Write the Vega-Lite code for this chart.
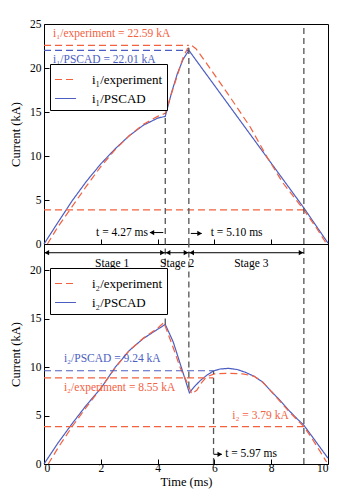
{
  "$schema": "https://vega.github.io/schema/vega-lite/v6.json",
  "background": "white",
  "padding": {"left": 8, "top": 17, "right": 17, "bottom": 8},
  "spacing": 0,
  "bounds": "flush",
  "config": {
    "font": "Liberation Serif",
    "view": {"stroke": "black", "strokeWidth": 1},
    "axis": {"domain": false, "grid": false, "tickColor": "black", "tickWidth": 1, "labelFont": "Liberation Serif", "labelFontSize": 11.5, "labelColor": "black", "titleFont": "Liberation Serif", "titleFontSize": 12.5, "titleFontWeight": "normal", "titleColor": "black"},
    "text": {"font": "Liberation Serif", "fontSize": 11.5},
    "legend": {"labelFont": "Liberation Serif", "labelFontSize": 13, "labelColor": "black", "symbolType": "stroke", "symbolStrokeWidth": 1.2, "symbolSize": 440, "strokeColor": "black", "fillColor": "white", "padding": 4, "labelOffset": 15, "rowPadding": 0, "title": null}
  },
  "datasets": {
    "top_curves": [
      {"t": 0, "i": 0, "s": "i₁/PSCAD"}, {"t": 0.5, "i": 2.5, "s": "i₁/PSCAD"}, {"t": 1, "i": 4.95, "s": "i₁/PSCAD"}, {"t": 1.5, "i": 7.15, "s": "i₁/PSCAD"}, {"t": 2, "i": 9.1, "s": "i₁/PSCAD"}, {"t": 2.5, "i": 10.8, "s": "i₁/PSCAD"}, {"t": 3, "i": 12.3, "s": "i₁/PSCAD"}, {"t": 3.5, "i": 13.5, "s": "i₁/PSCAD"}, {"t": 4, "i": 14.3, "s": "i₁/PSCAD"}, {"t": 4.27, "i": 14.5, "s": "i₁/PSCAD"}, {"t": 4.5, "i": 17.3, "s": "i₁/PSCAD"}, {"t": 4.7, "i": 19.4, "s": "i₁/PSCAD"}, {"t": 4.9, "i": 21.0, "s": "i₁/PSCAD"}, {"t": 5.1, "i": 22.01, "s": "i₁/PSCAD"}, {"t": 9.15, "i": 4.1, "s": "i₁/PSCAD"}, {"t": 10, "i": 0.1, "s": "i₁/PSCAD"},
      {"t": 0.12, "i": 0, "s": "i₁/experiment"}, {"t": 0.5, "i": 2.0, "s": "i₁/experiment"}, {"t": 1, "i": 4.3, "s": "i₁/experiment"}, {"t": 1.5, "i": 6.6, "s": "i₁/experiment"}, {"t": 2, "i": 8.8, "s": "i₁/experiment"}, {"t": 2.5, "i": 10.7, "s": "i₁/experiment"}, {"t": 3, "i": 12.3, "s": "i₁/experiment"}, {"t": 3.5, "i": 13.6, "s": "i₁/experiment"}, {"t": 4, "i": 14.5, "s": "i₁/experiment"}, {"t": 4.27, "i": 14.85, "s": "i₁/experiment"}, {"t": 4.45, "i": 16.7, "s": "i₁/experiment"}, {"t": 4.7, "i": 19.2, "s": "i₁/experiment"}, {"t": 4.9, "i": 21.2, "s": "i₁/experiment"}, {"t": 5.05, "i": 22.2, "s": "i₁/experiment"}, {"t": 5.2, "i": 22.55, "s": "i₁/experiment"}, {"t": 5.35, "i": 22.2, "s": "i₁/experiment"}, {"t": 5.73, "i": 20.5, "s": "i₁/experiment"}, {"t": 6.55, "i": 16.7, "s": "i₁/experiment"}, {"t": 7.26, "i": 13.3, "s": "i₁/experiment"}, {"t": 7.85, "i": 9.9, "s": "i₁/experiment"}, {"t": 8.4, "i": 7.0, "s": "i₁/experiment"}, {"t": 9.15, "i": 3.87, "s": "i₁/experiment"}, {"t": 9.6, "i": 1.8, "s": "i₁/experiment"}, {"t": 9.95, "i": 0, "s": "i₁/experiment"}
    ],
    "bottom_curves": [
      {"t": 0, "i": 0, "s": "i₂/PSCAD"}, {"t": 0.5, "i": 2.2, "s": "i₂/PSCAD"}, {"t": 1, "i": 4.2, "s": "i₂/PSCAD"}, {"t": 1.5, "i": 6.1, "s": "i₂/PSCAD"}, {"t": 2, "i": 7.8, "s": "i₂/PSCAD"}, {"t": 2.5, "i": 9.95, "s": "i₂/PSCAD"}, {"t": 3, "i": 11.7, "s": "i₂/PSCAD"}, {"t": 3.5, "i": 12.95, "s": "i₂/PSCAD"}, {"t": 4, "i": 13.9, "s": "i₂/PSCAD"}, {"t": 4.27, "i": 14.4, "s": "i₂/PSCAD"}, {"t": 4.55, "i": 12.6, "s": "i₂/PSCAD"}, {"t": 4.8, "i": 10.3, "s": "i₂/PSCAD"}, {"t": 5.12, "i": 7.34, "s": "i₂/PSCAD"}, {"t": 5.3, "i": 8.0, "s": "i₂/PSCAD"}, {"t": 5.5, "i": 8.6, "s": "i₂/PSCAD"}, {"t": 5.75, "i": 9.2, "s": "i₂/PSCAD"}, {"t": 5.97, "i": 9.6, "s": "i₂/PSCAD"}, {"t": 6.2, "i": 9.8, "s": "i₂/PSCAD"}, {"t": 6.5, "i": 9.87, "s": "i₂/PSCAD"}, {"t": 6.8, "i": 9.75, "s": "i₂/PSCAD"}, {"t": 7.1, "i": 9.45, "s": "i₂/PSCAD"}, {"t": 7.4, "i": 9.05, "s": "i₂/PSCAD"}, {"t": 7.7, "i": 8.45, "s": "i₂/PSCAD"}, {"t": 8.0, "i": 7.5, "s": "i₂/PSCAD"}, {"t": 8.3, "i": 6.6, "s": "i₂/PSCAD"}, {"t": 8.6, "i": 5.6, "s": "i₂/PSCAD"}, {"t": 8.9, "i": 4.7, "s": "i₂/PSCAD"}, {"t": 9.15, "i": 4.0, "s": "i₂/PSCAD"}, {"t": 9.4, "i": 3.0, "s": "i₂/PSCAD"}, {"t": 9.7, "i": 1.8, "s": "i₂/PSCAD"}, {"t": 10, "i": 0.6, "s": "i₂/PSCAD"},
      {"t": 0.15, "i": 0, "s": "i₂/experiment"}, {"t": 0.5, "i": 1.7, "s": "i₂/experiment"}, {"t": 1, "i": 3.9, "s": "i₂/experiment"}, {"t": 1.5, "i": 5.9, "s": "i₂/experiment"}, {"t": 2, "i": 7.8, "s": "i₂/experiment"}, {"t": 2.5, "i": 9.9, "s": "i₂/experiment"}, {"t": 3, "i": 11.7, "s": "i₂/experiment"}, {"t": 3.5, "i": 13.0, "s": "i₂/experiment"}, {"t": 4, "i": 14.0, "s": "i₂/experiment"}, {"t": 4.22, "i": 14.6, "s": "i₂/experiment"}, {"t": 4.55, "i": 12.0, "s": "i₂/experiment"}, {"t": 4.8, "i": 9.9, "s": "i₂/experiment"}, {"t": 5.02, "i": 8.55, "s": "i₂/experiment"}, {"t": 5.2, "i": 7.24, "s": "i₂/experiment"}, {"t": 5.38, "i": 7.6, "s": "i₂/experiment"}, {"t": 5.55, "i": 8.4, "s": "i₂/experiment"}, {"t": 5.73, "i": 9.0, "s": "i₂/experiment"}, {"t": 6.0, "i": 9.3, "s": "i₂/experiment"}, {"t": 6.5, "i": 9.35, "s": "i₂/experiment"}, {"t": 7.0, "i": 9.3, "s": "i₂/experiment"}, {"t": 7.4, "i": 9.05, "s": "i₂/experiment"}, {"t": 7.7, "i": 8.45, "s": "i₂/experiment"}, {"t": 8.0, "i": 7.5, "s": "i₂/experiment"}, {"t": 8.3, "i": 6.5, "s": "i₂/experiment"}, {"t": 8.6, "i": 5.5, "s": "i₂/experiment"}, {"t": 8.9, "i": 4.6, "s": "i₂/experiment"}, {"t": 9.15, "i": 3.85, "s": "i₂/experiment"}, {"t": 9.4, "i": 2.8, "s": "i₂/experiment"}, {"t": 9.7, "i": 1.4, "s": "i₂/experiment"}, {"t": 9.95, "i": 0.2, "s": "i₂/experiment"}
    ],
    "top_refs": [
      {"t": 0, "t2": 5.1, "i": 22.57, "i2": 22.57, "kind": "exp"},
      {"t": 0, "t2": 9.15, "i": 3.87, "i2": 3.87, "kind": "exp"},
      {"t": 0, "t2": 5.1, "i": 22.01, "i2": 22.01, "kind": "sim"},
      {"t": 4.27, "t2": 4.27, "i": 0, "i2": 14.85, "kind": "mark"},
      {"t": 5.1, "t2": 5.1, "i": 0, "i2": 22.57, "kind": "mark"},
      {"t": 9.15, "t2": 9.15, "i": 0, "i2": 25, "kind": "mark"}
    ],
    "bottom_refs": [
      {"t": 0, "t2": 5.97, "i": 8.88, "i2": 8.88, "kind": "exp"},
      {"t": 0, "t2": 9.15, "i": 3.85, "i2": 3.85, "kind": "exp"},
      {"t": 0, "t2": 5.97, "i": 9.62, "i2": 9.62, "kind": "sim"},
      {"t": 4.27, "t2": 4.27, "i": 14.4, "i2": 22.7, "kind": "mark"},
      {"t": 5.1, "t2": 5.1, "i": 7.9, "i2": 22.7, "kind": "mark"},
      {"t": 5.97, "t2": 5.97, "i": 0, "i2": 9.62, "kind": "mark"},
      {"t": 9.15, "t2": 9.15, "i": 0, "i2": 22.7, "kind": "mark"}
    ],
    "top_text": [
      {"t": 0.32, "i": 23.9, "label": "i₁/experiment = 22.59 kA", "kind": "exp"},
      {"t": 0.32, "i": 20.86, "label": "i₁/PSCAD = 22.01 kA", "kind": "sim"},
      {"t": 3.66, "i": 1.3, "label": "t = 4.27 ms", "kind": "noteR"},
      {"t": 5.87, "i": 1.2, "label": "t = 5.10 ms", "kind": "noteL"}
    ],
    "bottom_text": [
      {"t": 0.7, "i": 10.8, "label": "i₂/PSCAD = 9.24 kA", "kind": "sim"},
      {"t": 0.7, "i": 7.83, "label": "i₂/experiment = 8.55 kA", "kind": "exp"},
      {"t": 6.63, "i": 4.93, "label": "i₂ = 3.79 kA", "kind": "exp"},
      {"t": 6.38, "i": 1.0, "label": "t = 5.97 ms", "kind": "noteL"},
      {"t": 2.4, "i": 20.6, "label": "Stage 1", "kind": "noteC"},
      {"t": 4.69, "i": 20.6, "label": "Stage 2", "kind": "noteC"},
      {"t": 7.3, "i": 20.6, "label": "Stage 3", "kind": "noteC"}
    ],
    "top_arrows": [
      {"t": 3.73, "t2": 4.2, "i": 1.3}, {"t": 5.17, "t2": 5.55, "i": 1.2}
    ],
    "top_heads": [
      {"t": 3.8, "i": 1.3, "dir": "left"}, {"t": 5.48, "i": 1.2, "dir": "right"}
    ],
    "bottom_arrows": [
      {"t": 5.97, "t2": 6.26, "i": 1.0},
      {"t": 0, "t2": 4.27, "i": 21.8}, {"t": 4.27, "t2": 5.1, "i": 21.8}, {"t": 5.1, "t2": 9.15, "i": 21.8}
    ],
    "bottom_heads": [
      {"t": 6.19, "i": 1.0, "dir": "right"},
      {"t": 0.1, "i": 21.8, "dir": "left"}, {"t": 4.17, "i": 21.8, "dir": "right"},
      {"t": 4.37, "i": 21.8, "dir": "left"}, {"t": 5.0, "i": 21.8, "dir": "right"},
      {"t": 5.2, "i": 21.8, "dir": "left"}, {"t": 9.05, "i": 21.8, "dir": "right"}
    ]
  },
  "vconcat": [
    {
      "width": 284,
      "height": 220,
      "layer": [
        {
          "data": {"name": "top_curves"},
          "mark": {"type": "line", "strokeWidth": 1.2},
          "encoding": {
            "x": {"field": "t", "type": "quantitative", "scale": {"domain": [0, 10], "nice": false},
              "axis": {"values": [0, 1, 2, 3, 4, 5, 6, 7, 8, 9, 10], "labels": false, "title": null,
                "tickSize": {"condition": {"test": "datum.value % 2 === 0", "value": -5}, "value": -3}}},
            "y": {"field": "i", "type": "quantitative", "scale": {"domain": [0, 25], "nice": false},
              "axis": {"values": [0, 2.5, 5, 7.5, 10, 12.5, 15, 17.5, 20, 22.5, 25], "title": "Current (kA)",
                "labelExpr": "datum.value % 5 === 0 ? datum.label : ''", "labelPadding": 8, "titlePadding": 7.5,
                "tickSize": {"condition": {"test": "datum.value % 5 === 0", "value": -5}, "value": -3}}},
            "color": {"field": "s", "type": "nominal",
              "scale": {"domain": ["i₁/experiment", "i₁/PSCAD"], "range": ["#F4613F", "#4C5EC2"]},
              "legend": {"orient": "none", "legendX": 6, "legendY": 40, "title": null}},
            "strokeDash": {"field": "s", "type": "nominal",
              "scale": {"domain": ["i₁/experiment", "i₁/PSCAD"], "range": [[7, 4], [1, 0]]},
              "legend": {"orient": "none", "legendX": 6, "legendY": 40, "title": null}}
          }
        },
        {
          "data": {"name": "top_refs"},
          "transform": [{"filter": "datum.kind === 'exp'"}],
          "mark": {"type": "rule", "color": "#F4613F", "strokeDash": [7, 4], "strokeWidth": 1.2},
          "encoding": {
            "x": {"field": "t", "type": "quantitative"}, "x2": {"field": "t2"},
            "y": {"field": "i", "type": "quantitative"}, "y2": {"field": "i2"}
          }
        },
        {
          "data": {"name": "top_refs"},
          "transform": [{"filter": "datum.kind === 'sim'"}],
          "mark": {"type": "rule", "color": "#4C5EC2", "strokeDash": [7, 4], "strokeWidth": 1.2},
          "encoding": {
            "x": {"field": "t", "type": "quantitative"}, "x2": {"field": "t2"},
            "y": {"field": "i", "type": "quantitative"}, "y2": {"field": "i2"}
          }
        },
        {
          "data": {"name": "top_refs"},
          "transform": [{"filter": "datum.kind === 'mark'"}],
          "mark": {"type": "rule", "color": "#555555", "strokeDash": [6, 4], "strokeWidth": 1.3},
          "encoding": {
            "x": {"field": "t", "type": "quantitative"}, "x2": {"field": "t2"},
            "y": {"field": "i", "type": "quantitative"}, "y2": {"field": "i2"}
          }
        },
        {
          "data": {"name": "top_text"},
          "transform": [{"filter": "datum.kind === 'exp'"}],
          "mark": {"type": "text", "align": "left", "baseline": "middle", "color": "#F4613F"},
          "encoding": {
            "x": {"field": "t", "type": "quantitative"},
            "y": {"field": "i", "type": "quantitative"},
            "text": {"field": "label"}
          }
        },
        {
          "data": {"name": "top_text"},
          "transform": [{"filter": "datum.kind === 'sim'"}],
          "mark": {"type": "text", "align": "left", "baseline": "middle", "color": "#4C5EC2"},
          "encoding": {
            "x": {"field": "t", "type": "quantitative"},
            "y": {"field": "i", "type": "quantitative"},
            "text": {"field": "label"}
          }
        },
        {
          "data": {"name": "top_text"},
          "transform": [{"filter": "datum.kind === 'noteL'"}],
          "mark": {"type": "text", "align": "left", "baseline": "middle", "color": "black"},
          "encoding": {
            "x": {"field": "t", "type": "quantitative"},
            "y": {"field": "i", "type": "quantitative"},
            "text": {"field": "label"}
          }
        },
        {
          "data": {"name": "top_text"},
          "transform": [{"filter": "datum.kind === 'noteR'"}],
          "mark": {"type": "text", "align": "right", "baseline": "middle", "color": "black"},
          "encoding": {
            "x": {"field": "t", "type": "quantitative"},
            "y": {"field": "i", "type": "quantitative"},
            "text": {"field": "label"}
          }
        },
        {
          "data": {"name": "top_arrows"},
          "mark": {"type": "rule", "color": "black", "strokeWidth": 1},
          "encoding": {
            "x": {"field": "t", "type": "quantitative"}, "x2": {"field": "t2"},
            "y": {"field": "i", "type": "quantitative"}
          }
        },
        {
          "data": {"name": "top_heads"},
          "mark": {"type": "point", "filled": true, "color": "black", "size": 28, "opacity": 1},
          "encoding": {
            "x": {"field": "t", "type": "quantitative"},
            "y": {"field": "i", "type": "quantitative"},
            "shape": {"field": "dir", "type": "nominal", "scale": {"domain": ["left", "right"], "range": ["triangle-left", "triangle-right"]}, "legend": null}
          }
        }
      ]
    },
    {
      "width": 284,
      "height": 220,
      "layer": [
        {
          "data": {"name": "bottom_curves"},
          "mark": {"type": "line", "strokeWidth": 1.2},
          "encoding": {
            "x": {"field": "t", "type": "quantitative", "scale": {"domain": [0, 10], "nice": false},
              "axis": {"values": [0, 1, 2, 3, 4, 5, 6, 7, 8, 9, 10], "title": "Time (ms)", "labelExpr": "datum.value % 2 === 0 ? datum.label : ''", "labelPadding": 3, "titlePadding": 2,
                "tickSize": {"condition": {"test": "datum.value % 2 === 0", "value": -5}, "value": -3}}},
            "y": {"field": "i", "type": "quantitative", "scale": {"domain": [0, 22.7], "nice": false},
              "axis": {"values": [0, 2.5, 5, 7.5, 10, 12.5, 15, 17.5, 20], "title": "Current (kA)",
                "labelExpr": "datum.value % 5 === 0 ? datum.label : ''", "labelPadding": 8, "titlePadding": 7.5,
                "tickSize": {"condition": {"test": "datum.value % 5 === 0", "value": -5}, "value": -3}}},
            "color": {"field": "s", "type": "nominal",
              "scale": {"domain": ["i₂/experiment", "i₂/PSCAD"], "range": ["#F4613F", "#4C5EC2"]},
              "legend": {"orient": "none", "legendX": 6, "legendY": 24, "title": null}},
            "strokeDash": {"field": "s", "type": "nominal",
              "scale": {"domain": ["i₂/experiment", "i₂/PSCAD"], "range": [[7, 4], [1, 0]]},
              "legend": {"orient": "none", "legendX": 6, "legendY": 24, "title": null}}
          }
        },
        {
          "data": {"name": "bottom_refs"},
          "transform": [{"filter": "datum.kind === 'exp'"}],
          "mark": {"type": "rule", "color": "#F4613F", "strokeDash": [7, 4], "strokeWidth": 1.2},
          "encoding": {
            "x": {"field": "t", "type": "quantitative"}, "x2": {"field": "t2"},
            "y": {"field": "i", "type": "quantitative"}, "y2": {"field": "i2"}
          }
        },
        {
          "data": {"name": "bottom_refs"},
          "transform": [{"filter": "datum.kind === 'sim'"}],
          "mark": {"type": "rule", "color": "#4C5EC2", "strokeDash": [7, 4], "strokeWidth": 1.2},
          "encoding": {
            "x": {"field": "t", "type": "quantitative"}, "x2": {"field": "t2"},
            "y": {"field": "i", "type": "quantitative"}, "y2": {"field": "i2"}
          }
        },
        {
          "data": {"name": "bottom_refs"},
          "transform": [{"filter": "datum.kind === 'mark'"}],
          "mark": {"type": "rule", "color": "#555555", "strokeDash": [6, 4], "strokeWidth": 1.3},
          "encoding": {
            "x": {"field": "t", "type": "quantitative"}, "x2": {"field": "t2"},
            "y": {"field": "i", "type": "quantitative"}, "y2": {"field": "i2"}
          }
        },
        {
          "data": {"name": "bottom_text"},
          "transform": [{"filter": "datum.kind === 'exp'"}],
          "mark": {"type": "text", "align": "left", "baseline": "middle", "color": "#F4613F"},
          "encoding": {
            "x": {"field": "t", "type": "quantitative"},
            "y": {"field": "i", "type": "quantitative"},
            "text": {"field": "label"}
          }
        },
        {
          "data": {"name": "bottom_text"},
          "transform": [{"filter": "datum.kind === 'sim'"}],
          "mark": {"type": "text", "align": "left", "baseline": "middle", "color": "#4C5EC2"},
          "encoding": {
            "x": {"field": "t", "type": "quantitative"},
            "y": {"field": "i", "type": "quantitative"},
            "text": {"field": "label"}
          }
        },
        {
          "data": {"name": "bottom_text"},
          "transform": [{"filter": "datum.kind === 'noteL'"}],
          "mark": {"type": "text", "align": "left", "baseline": "middle", "color": "black"},
          "encoding": {
            "x": {"field": "t", "type": "quantitative"},
            "y": {"field": "i", "type": "quantitative"},
            "text": {"field": "label"}
          }
        },
        {
          "data": {"name": "bottom_text"},
          "transform": [{"filter": "datum.kind === 'noteC'"}],
          "mark": {"type": "text", "align": "center", "baseline": "middle", "color": "black"},
          "encoding": {
            "x": {"field": "t", "type": "quantitative"},
            "y": {"field": "i", "type": "quantitative"},
            "text": {"field": "label"}
          }
        },
        {
          "data": {"name": "bottom_arrows"},
          "mark": {"type": "rule", "color": "black", "strokeWidth": 1},
          "encoding": {
            "x": {"field": "t", "type": "quantitative"}, "x2": {"field": "t2"},
            "y": {"field": "i", "type": "quantitative"}
          }
        },
        {
          "data": {"name": "bottom_heads"},
          "mark": {"type": "point", "filled": true, "color": "black", "size": 28, "opacity": 1},
          "encoding": {
            "x": {"field": "t", "type": "quantitative"},
            "y": {"field": "i", "type": "quantitative"},
            "shape": {"field": "dir", "type": "nominal", "scale": {"domain": ["left", "right"], "range": ["triangle-left", "triangle-right"]}, "legend": null}
          }
        }
      ]
    }
  ],
  "resolve": {
    "scale": {"color": "independent", "strokeDash": "independent", "shape": "independent"},
    "legend": {"color": "independent", "strokeDash": "independent", "shape": "independent"}
  }
}
